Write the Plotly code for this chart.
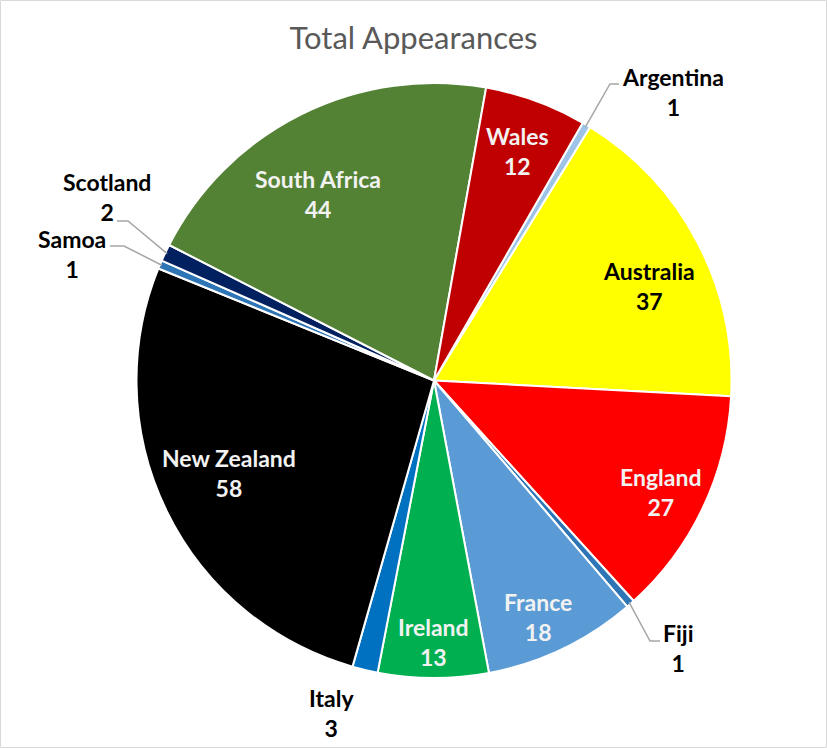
import math
import plotly.graph_objects as go

countries = ["Argentina", "Australia", "England", "Fiji", "France", "Ireland",
             "Italy", "New Zealand", "Samoa", "Scotland", "South Africa", "Wales"]
appearances = [1, 37, 27, 1, 18, 13, 3, 58, 1, 2, 44, 12]
slice_colors = ["#9DC3E6", "#FFFF00", "#FF0000", "#2E75B6", "#5B9BD5", "#00B050",
                "#0070C0", "#000000", "#2E75B6", "#002060", "#548235", "#C00000"]
title_text = "Total Appearances"

W, H = 827, 748
CX, CY, R = 434, 380.5, 297.5
ROT = 30

FONT = "Lato"
LSIZE = 23

fig = go.Figure(go.Pie(
    labels=countries,
    values=appearances,
    marker=dict(colors=slice_colors, line=dict(color="white", width=2)),
    sort=False,
    direction="clockwise",
    rotation=ROT,
    textinfo="none",
    hoverinfo="label+value",
    showlegend=False,
    domain=dict(x=[(CX - R) / W, (CX + R) / W], y=[1 - (CY + R) / H, 1 - (CY - R) / H]),
))

total = sum(appearances)


def mid_angle(i):
    before = sum(appearances[:i])
    return math.radians(ROT + (before + appearances[i] / 2) / total * 360)


def pt(a, r):
    return CX + r * math.sin(a), CY - r * math.cos(a)


def to_paper(x, y):
    return x / W, 1 - y / H


annotations = []
shapes = []

# inside labels: angle nudge (deg), radius in pixels, font colour
inside = {
    "Australia": (4.0, 235, "#000000"),
    "England": (0.8, 253, "#F2F2F2"),
    "France": (1.8, 258, "#F2F2F2"),
    "Ireland": (0.0, 262, "#F2F2F2"),
    "New Zealand": (1.7, 225, "#F2F2F2"),
    "South Africa": (-5.4, 220, "#F2F2F2"),
    "Wales": (0.0, 244, "#F2F2F2"),
}
for i, name in enumerate(countries):
    if name in inside:
        da, r, col = inside[name]
        x, y = pt(mid_angle(i) + math.radians(da), r)
        px, py = to_paper(x, y)
        annotations.append(dict(
            x=px, y=py, xref="paper", yref="paper", showarrow=False,
            xanchor="center", yanchor="middle",
            text=f"<b>{name}</b><br><b>{appearances[i]}</b>",
            font=dict(family=FONT, size=LSIZE, color=col), align="center",
        ))

# outside labels: text centre (px), elbow point, line end point (None = no line)
outside = {
    "Argentina": ((673, 92), (610, 84), (619, 84)),
    "Fiji": ((678, 648), (650, 641), (660, 641)),
    "Samoa": ((72, 254), (124, 246), (110, 246)),
    "Scotland": ((107, 197), (128, 221), (117, 221)),
    "Italy": ((331, 713), None, None),
}
for i, name in enumerate(countries):
    if name in outside:
        (tx, ty), elbow, end = outside[name]
        px, py = to_paper(tx, ty)
        annotations.append(dict(
            x=px, y=py, xref="paper", yref="paper", showarrow=False,
            xanchor="center", yanchor="middle",
            text=f"<b>{name}</b><br><b>{appearances[i]}</b>",
            font=dict(family=FONT, size=LSIZE, color="#000000"), align="center",
        ))
        if elbow is not None:
            sx, sy = pt(mid_angle(i), R - 2)
            path = f"M {sx/W} {1-sy/H} L {elbow[0]/W} {1-elbow[1]/H} L {end[0]/W} {1-end[1]/H}"
            shapes.append(dict(type="path", path=path, xref="paper", yref="paper",
                               line=dict(color="#A6A6A6", width=1.5)))

shapes.append(dict(type="rect", xref="paper", yref="paper", x0=0.0006, y0=0.0007,
                   x1=0.9994, y1=0.9993, line=dict(color="#D9D9D9", width=1)))

fig.update_layout(
    width=W, height=H,
    margin=dict(l=0, r=0, t=0, b=0),
    paper_bgcolor="white", plot_bgcolor="white",
    title=dict(text=title_text, x=0.5, xanchor="center", y=1 - 38 / H, yanchor="middle",
               font=dict(family=FONT, size=31, color="#595959")),
    annotations=annotations,
    shapes=shapes,
)

fig.write_html("out.html", config={"displayModeBar": False},
               post_script="document.body.style.margin='0';document.body.style.overflow='hidden';")
